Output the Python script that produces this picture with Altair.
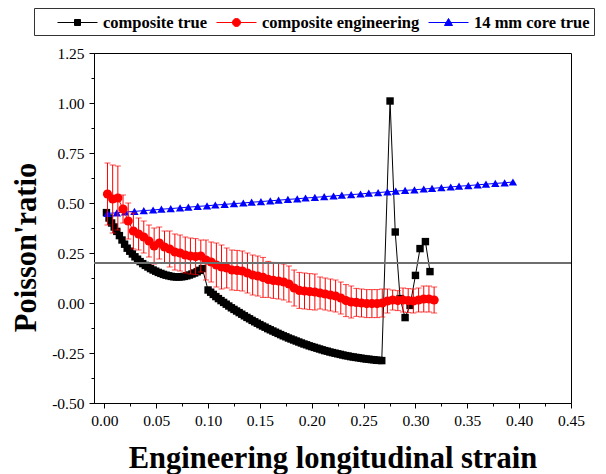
import altair as alt
import pandas as pd

SERIES = ["composite true", "composite engineering", "14 mm core true"]
COLORS = ["#000000", "#ff0000", "#0000ff"]

# composite true (black squares)
black_x = [0.0020, 0.0045, 0.0070, 0.0095, 0.0120, 0.0145, 0.0170, 0.0195, 0.0220, 0.0245,
           0.0270, 0.0295, 0.0320, 0.0345, 0.0370, 0.0395, 0.0420, 0.0445, 0.0470, 0.0495,
           0.0520, 0.0545, 0.0570, 0.0595, 0.0620, 0.0645, 0.0670, 0.0695, 0.0720, 0.0745,
           0.0770, 0.0795, 0.0820, 0.0845, 0.0870, 0.0895, 0.0920, 0.0945,
           0.1000, 0.1025, 0.1050, 0.1075, 0.1100, 0.1125, 0.1150, 0.1175, 0.1200, 0.1225,
           0.1250, 0.1275, 0.1300, 0.1325, 0.1350, 0.1375, 0.1400, 0.1425, 0.1450, 0.1475,
           0.1500, 0.1525, 0.1550, 0.1575, 0.1600, 0.1625, 0.1650, 0.1675, 0.1700, 0.1725,
           0.1750, 0.1775, 0.1800, 0.1825, 0.1850, 0.1875, 0.1900, 0.1925, 0.1950, 0.1975,
           0.2000, 0.2025, 0.2050, 0.2075, 0.2100, 0.2125, 0.2150, 0.2175, 0.2200, 0.2225,
           0.2250, 0.2275, 0.2300, 0.2325, 0.2350, 0.2375, 0.2400, 0.2425, 0.2450, 0.2475,
           0.2500, 0.2525, 0.2550, 0.2575, 0.2600, 0.2625, 0.2650, 0.2675,
           0.2755, 0.2805, 0.2852, 0.2900, 0.2948, 0.3000, 0.3044, 0.3096, 0.3140]
black_y = [0.452, 0.425, 0.400, 0.380, 0.358, 0.337, 0.315, 0.294, 0.274, 0.259,
           0.245, 0.231, 0.219, 0.207, 0.197, 0.188, 0.180, 0.172, 0.165, 0.159,
           0.153, 0.148, 0.143, 0.139, 0.136, 0.133, 0.131, 0.130, 0.130, 0.131,
           0.133, 0.136, 0.140, 0.145, 0.150, 0.156, 0.163, 0.172,
           0.065, 0.054, 0.043, 0.032, 0.022, 0.012, 0.003, -0.006, -0.015, -0.024,
           -0.032, -0.040, -0.048, -0.056, -0.064, -0.072, -0.079, -0.087, -0.094, -0.101,
           -0.108, -0.115, -0.121, -0.128, -0.134, -0.140, -0.146, -0.152, -0.158, -0.164,
           -0.169, -0.175, -0.180, -0.185, -0.190, -0.195, -0.200, -0.205, -0.209, -0.214,
           -0.218, -0.222, -0.226, -0.230, -0.234, -0.238, -0.241, -0.245, -0.248, -0.251,
           -0.254, -0.257, -0.260, -0.263, -0.265, -0.268, -0.270, -0.272, -0.274, -0.276,
           -0.278, -0.280, -0.281, -0.283, -0.284, -0.286, -0.287, -0.288,
           1.01, 0.355, 0.022, -0.073, -0.012, 0.138, 0.272, 0.307, 0.157]

# composite engineering (red circles with error bars)
red_x = [0.003, 0.008, 0.013, 0.018, 0.023, 0.028, 0.033, 0.038, 0.043, 0.048,
         0.053, 0.058, 0.063, 0.068, 0.073, 0.078, 0.083, 0.088, 0.093, 0.098,
         0.103, 0.108, 0.113, 0.118, 0.123, 0.128, 0.133, 0.138, 0.143, 0.148,
         0.153, 0.158, 0.163, 0.168, 0.173, 0.178, 0.183, 0.188, 0.193, 0.198,
         0.203, 0.208, 0.213, 0.218, 0.223, 0.228, 0.233, 0.238, 0.243, 0.248,
         0.253, 0.258, 0.263, 0.268, 0.273, 0.278, 0.283, 0.288, 0.293, 0.298,
         0.303, 0.308, 0.313, 0.318]
red_y = [0.545, 0.52, 0.525, 0.47, 0.41, 0.36, 0.345, 0.33, 0.31, 0.285,
         0.30, 0.28, 0.27, 0.255, 0.25, 0.24, 0.235, 0.232, 0.235, 0.215,
         0.205, 0.19, 0.18, 0.175, 0.165, 0.163, 0.16, 0.15, 0.14, 0.135,
         0.128, 0.118, 0.113, 0.11, 0.105, 0.095, 0.075, 0.063, 0.06, 0.057,
         0.055, 0.05, 0.045, 0.04, 0.035, 0.025, 0.012, 0.005, 0.003, 0.0,
         -0.003, -0.003, -0.003, 0.0, 0.01, 0.015, 0.012, 0.015, 0.012, 0.01,
         0.015, 0.02, 0.02, 0.015]
red_err = [0.155, 0.17, 0.16, 0.07, 0.09, 0.09, 0.08, 0.08, 0.08, 0.09,
           0.08, 0.08, 0.09, 0.09, 0.09, 0.09, 0.09, 0.09, 0.08, 0.10,
           0.10, 0.11, 0.11, 0.10, 0.10, 0.10, 0.10, 0.10, 0.10, 0.10,
           0.10, 0.09, 0.09, 0.09, 0.09, 0.09, 0.09, 0.09, 0.09, 0.09,
           0.09, 0.08, 0.08, 0.08, 0.08, 0.08, 0.08, 0.08, 0.07, 0.07,
           0.07, 0.07, 0.07, 0.07, 0.06, 0.05, 0.05, 0.06, 0.06, 0.06,
           0.06, 0.065, 0.065, 0.065]

# 14 mm core true (blue triangles)
blue_x = [0.003, 0.012, 0.020, 0.029, 0.038, 0.047, 0.055, 0.064, 0.073, 0.081,
          0.090, 0.099, 0.107, 0.116, 0.125, 0.134, 0.142, 0.151, 0.160, 0.168,
          0.177, 0.186, 0.194, 0.203, 0.212, 0.221, 0.229, 0.238, 0.247, 0.255,
          0.264, 0.273, 0.281, 0.290, 0.299, 0.308, 0.316, 0.325, 0.334, 0.342,
          0.351, 0.360, 0.368, 0.377, 0.386, 0.394]
blue_y = [0.448, 0.451, 0.455, 0.458, 0.462, 0.465, 0.469, 0.472, 0.476, 0.479,
          0.483, 0.486, 0.490, 0.493, 0.497, 0.500, 0.504, 0.507, 0.511, 0.514,
          0.518, 0.521, 0.525, 0.528, 0.532, 0.535, 0.539, 0.542, 0.545, 0.549,
          0.552, 0.556, 0.559, 0.563, 0.566, 0.570, 0.573, 0.577, 0.580, 0.584,
          0.587, 0.591, 0.594, 0.598, 0.601, 0.605]

REF_LINE = [0.2]

X_TICKS = [round(i * 0.025, 3) for i in range(19)]
Y_TICKS = [round(-0.5 + i * 0.125, 3) for i in range(15)]

FONT = "Liberation Serif, Times New Roman, serif"

black_df = pd.DataFrame({"x": black_x, "y": black_y})
red_df = pd.DataFrame({"x": red_x, "y": red_y,
                       "lo": [v - e for v, e in zip(red_y, red_err)],
                       "hi": [v + e for v, e in zip(red_y, red_err)]})
blue_df = pd.DataFrame({"x": blue_x, "y": blue_y})
ref_df = pd.DataFrame({"y": REF_LINE})
leg_df = pd.DataFrame({"series": SERIES, "x": [0.0] * 3, "y": [0.0] * 3})

x_major = "abs(datum.value*20 - round(datum.value*20)) < 0.001"
y_major = "abs(datum.value*4 - round(datum.value*4)) < 0.001"

x_axis = alt.Axis(
    values=X_TICKS,
    labelExpr=f"{x_major} ? format(datum.value, '.2f') : ''",
    tickSize={"condition": {"test": x_major, "value": 5}, "value": 3},
    tickColor="black", domainColor="black", grid=False,
    labelFont=FONT, labelFontSize=15.5, labelColor="black", labelPadding=5,
    labelFlush=False, labelOverlap=False,
    title="Engineering longitudinal strain", titleFont=FONT, titleFontSize=30.5,
    titleFontWeight="bold", titleColor="black",
    titleBaseline="alphabetic", titleY=64,
)
y_axis = alt.Axis(
    values=Y_TICKS,
    labelExpr=f"{y_major} ? replace(format(datum.value, '.2f'), '\u2212', '-') : ''",
    tickSize={"condition": {"test": y_major, "value": 5}, "value": 3},
    tickColor="black", domainColor="black", grid=False,
    labelFont=FONT, labelFontSize=15.5, labelColor="black", labelPadding=5,
    labelOverlap=False,
    title="Poisson'ratio", titleFont=FONT, titleFontSize=30.5,
    titleFontWeight="bold", titleColor="black",
    titleBaseline="alphabetic", titleX=-59, titleY=194,
)
x_scale = alt.Scale(domain=[-0.01, 0.45], nice=False, zero=False)
y_scale = alt.Scale(domain=[-0.5, 1.25], nice=False, zero=False)


def X(field="x"):
    return alt.X(f"{field}:Q", scale=x_scale, axis=x_axis)


def Y(field="y"):
    return alt.Y(f"{field}:Q", scale=y_scale, axis=y_axis)


black_line = alt.Chart(black_df).mark_line(color="black", strokeWidth=1).encode(x=X(), y=Y())
black_pts = alt.Chart(black_df).mark_point(shape="square", filled=True, color="black",
                                           size=55, opacity=1).encode(x=X(), y=Y())
blue_line = alt.Chart(blue_df).mark_line(color="#0000ff", strokeWidth=1).encode(x=X(), y=Y())
blue_pts = alt.Chart(blue_df).mark_point(shape="triangle-up", filled=True, color="#0000ff",
                                         size=70, opacity=1).encode(x=X(), y=Y())
red_bars = alt.Chart(red_df).mark_errorbar(ticks={"size": 6}, color="#ff0000",
                                           thickness=1).encode(
    x=X(), y=Y("lo"), y2="hi:Q")
red_line = alt.Chart(red_df).mark_line(color="#ff0000", strokeWidth=1).encode(x=X(), y=Y())
red_pts = alt.Chart(red_df).mark_point(shape="circle", filled=True, color="#ff0000",
                                       size=85, opacity=1).encode(x=X(), y=Y())
ref_rule = alt.Chart(ref_df).mark_rule(color="#6e6e6e", strokeWidth=2).encode(y=Y())

LEG_PATHS = [
    "M-1,0H3M0.7,-0.3H1.3V0.3H0.7Z",
    "M-1,0H3M0.6,0A0.4,0.4 0 1,0 1.4,0A0.4,0.4 0 1,0 0.6,0Z",
    "M-1,0H3M0.6,0.3H1.4L1,-0.4Z",
]
legend = alt.Legend(
    orient="none", legendX=-60, legendY=-45, direction="horizontal",
    title="\u00a0", titleOrient="left", titlePadding=19, titleFontSize=15,
    strokeColor="#333333", padding=4,
    labelFont=FONT, labelFontSize=16.5, labelFontWeight="bold", labelColor="black",
    labelLimit=400, labelOffset=25, columnPadding=6,
    symbolSize=400, symbolStrokeWidth=1,
)
legend_layer = alt.Chart(leg_df).mark_point(opacity=1, strokeWidth=1).encode(
    x=X(), y=Y(),
    fill=alt.Fill("series:N", scale=alt.Scale(domain=SERIES, range=COLORS), legend=legend),
    stroke=alt.Stroke("series:N", scale=alt.Scale(domain=SERIES, range=COLORS), legend=legend),
    shape=alt.Shape("series:N", scale=alt.Scale(domain=SERIES, range=LEG_PATHS), legend=legend),
).transform_filter("false")

chart = alt.layer(
    black_line, black_pts, blue_line, blue_pts, red_bars, red_line, red_pts, ref_rule,
    legend_layer,
).properties(
    width=477, height=350,
    autosize=alt.AutoSizeParams(type="none"),
    padding={"left": 86, "top": 45, "right": 27, "bottom": 71},
    background="white",
).configure_view(stroke="black", strokeWidth=1)

chart.save("out.html", embed_options={"renderer": "svg", "actions": False})
